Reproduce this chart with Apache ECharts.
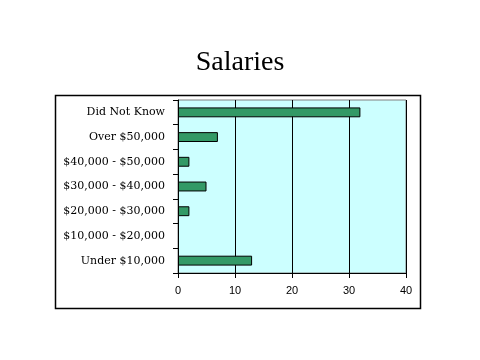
<!DOCTYPE html>
<html><head><meta charset="utf-8">
<script src="https://cdn.jsdelivr.net/npm/echarts@6/dist/echarts.min.js"></script>
<style>html,body{margin:0;padding:0;background:#fff}#c{width:480px;height:360px}</style>
</head><body><div id="c"></div>
<script>
const categories = ['Under $10,000','$10,000 - $20,000','$20,000 - $30,000','$30,000 - $40,000','$40,000 - $50,000','Over $50,000','Did Not Know'];
const values = [13,0,2,5,2,7,32];
const xTicks = [0,10,20,30,40];
const titleText = 'Salaries';

const chart = echarts.init(document.getElementById('c'), null, {renderer:'canvas'});
chart.setOption({
  animation:false,
  backgroundColor:'#ffffff',
  title:{text:titleText,left:'center',top:44,textStyle:{fontFamily:'Liberation Serif',fontSize:28,fontWeight:'normal',color:'#000'}},
  graphic:[{type:'rect',shape:{x:55.5,y:95.5,width:365,height:213},style:{fill:'none',stroke:'#000',lineWidth:1.5},z:-1}],
  grid:{left:178,right:74,top:100,bottom:87,show:true,backgroundColor:'#CCFFFF',borderColor:'#808080',borderWidth:1},
  xAxis:{type:'value',min:xTicks[0],max:xTicks[xTicks.length-1],interval:10,
    axisLine:{show:true,lineStyle:{color:'#000'}},
    axisTick:{show:true,length:5,lineStyle:{color:'#000'}},
    splitLine:{show:true,lineStyle:{color:'#000',width:1}},
    axisLabel:{fontFamily:'Liberation Sans',fontSize:11,color:'#000',margin:12}},
  yAxis:{type:'category',data:categories,
    axisLine:{show:true,lineStyle:{color:'#000'}},
    axisTick:{show:true,length:5,lineStyle:{color:'#000'}},
    axisLabel:{fontFamily:'DejaVu Serif',fontSize:11,color:'#000',margin:13}},
  series:[{type:'bar',barWidth:'40%',
    data:values.map(v => v === 0 ? {value:v,itemStyle:{borderWidth:0,opacity:0}} : v),
    itemStyle:{color:'#339966',borderColor:'#000',borderWidth:1}}]
});
</script></body></html>
